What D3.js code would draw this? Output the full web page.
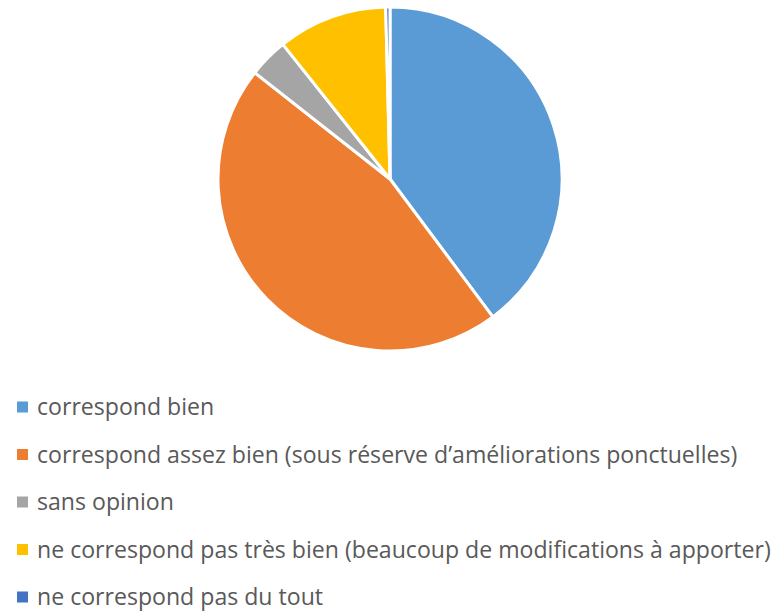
<!DOCTYPE html>
<html><head><meta charset="utf-8">
<script src="https://cdn.jsdelivr.net/npm/d3@7"></script>
<style>html,body{margin:0;padding:0;background:#fff;}</style>
</head><body>
<svg id="c" width="778" height="611"></svg>
<script>
const categories = [
  "correspond bien",
  "correspond assez bien (sous réserve d’améliorations ponctuelles)",
  "sans opinion",
  "ne correspond pas très bien (beaucoup de modifications à apporter)",
  "ne correspond pas du tout"
];
const values = [39.8, 45.8, 3.7, 10.3, 0.4];
const colors = ["#5B9BD5", "#ED7D31", "#A5A5A5", "#FFC000", "#4472C4"];

const svg = d3.select("#c");
const cx = 390, cy = 179, r = 172;
const pie = d3.pie().sort(null).value(d => d.v);
const arc = d3.arc().innerRadius(0).outerRadius(r);
const data = categories.map((c, i) => ({c, v: values[i], col: colors[i]}));
svg.append("g").attr("transform", `translate(${cx},${cy})`)
  .selectAll("path").data(pie(data)).join("path")
  .attr("d", arc).attr("fill", d => d.data.col)
  .attr("stroke", "#fff").attr("stroke-width", 3).attr("stroke-linejoin", "round");

const leg = svg.append("g");
const y = d3.scalePoint().domain(categories).range([407, 597]);
const items = leg.selectAll("g").data(data).join("g")
  .attr("transform", d => `translate(0,${y(d.c)})`);
items.append("rect").attr("x", 17).attr("y", -5.5).attr("width", 11).attr("height", 11).attr("fill", d => d.col);
items.append("text").attr("x", 37).attr("y", 0).attr("dy", "0.35em")
  .attr("font-family", "'Open Sans', sans-serif").attr("font-size", 23.1)
  .attr("fill", "#595959").text(d => d.c);
</script>
</body></html>
